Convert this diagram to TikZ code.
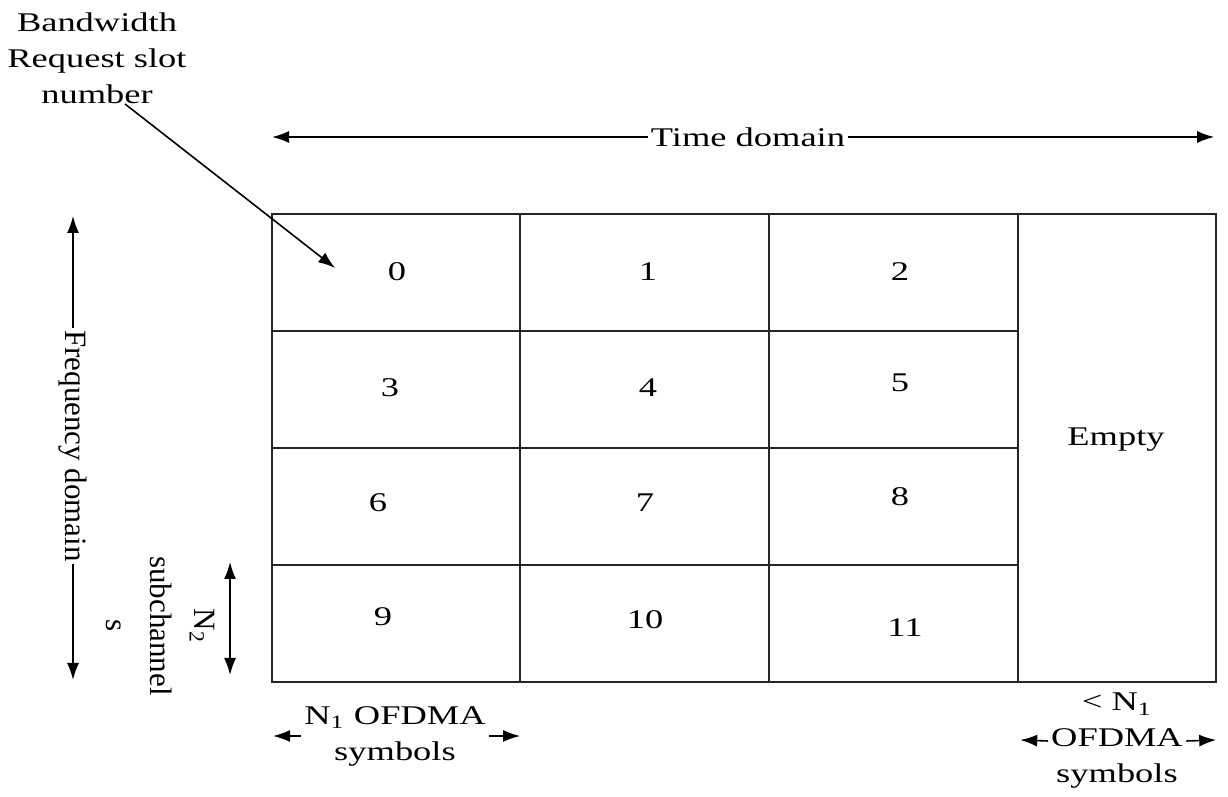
\documentclass[tikz,border=0pt]{standalone}
\usepackage{fontspec}
\setmainfont{Liberation Serif}
\usetikzlibrary{arrows.meta}
\tikzset{
  txt/.style={font=\fontsize{13.5}{18}\selectfont, inner sep=1pt, align=center, transform shape},
  vtxt/.style={font=\fontsize{15.5}{22}\selectfont, inner sep=1pt, align=center, rotate=-90},
  gridline/.style={line width=1pt, draw=black!85},
  arr/.style={line width=0.8pt},
  >={Latex[length=8.5pt,width=6pt]}
}
\begin{document}
\begin{tikzpicture}[x=0.37037pt, y=-0.5pt, xscale=1.35]
\useasboundingbox (0,0) rectangle (1228,797);

% slot grid
\draw[gridline] (272,214) rectangle (1216,682);
\foreach \cx in {520,769,1018} \draw[gridline] (\cx,214) -- (\cx,682);
\foreach \ry in {331,448,565} \draw[gridline] (272,\ry) -- (1018,\ry);

% slot numbers
\node[txt] (s0) at (397,272) {0};
\node[txt] (s1) at (648,272) {1};
\node[txt] (s2) at (900,272) {2};
\node[txt] (s3) at (390,388) {3};
\node[txt] (s4) at (648,388) {4};
\node[txt] (s5) at (900,383) {5};
\node[txt] (s6) at (378,503) {6};
\node[txt] (s7) at (645,503) {7};
\node[txt] (s8) at (900,497) {8};
\node[txt] (s9) at (383,617) {9};
\node[txt] (s10) at (645,620) {10};
\node[txt] (s11) at (905,628) {11};
\node[txt] (empty) at (1116,440) {Empty};

% slot number callout
\node[txt] (bw) at (97,58) {Bandwidth\\Request slot\\number};
\coordinate (bwtail) at (125,104);
\coordinate (bwtip) at (335,268);
\draw[arr,->] (bwtail) -- (bwtip);

% time axis
\node[txt] (time) at (748,137) {Time domain};
\coordinate (tl) at (272,137);
\coordinate (tr) at (1214,137);
\draw[arr,->] (time.west) -- (tl);
\draw[arr,->] (time.east) -- (tr);

% frequency axis
\node[vtxt] (freq) at (73,446) {Frequency domain};
\coordinate (ft) at (73,216);
\coordinate (fb) at (73,680);
\draw[arr,->] (freq.west) -- (ft);
\draw[arr,->] (freq.east) -- (fb);

% subchannel height
\node[vtxt] (n2) at (160,626) {N\textsubscript{2}\\subchannel\\s};
\coordinate (n2t) at (230,562);
\coordinate (n2b) at (230,675);
\draw[arr,<->] (n2t) -- (n2b);

% symbol width of one slot
\node[txt] (n1) at (395,736) {N\textsubscript{1} OFDMA\\symbols};
\coordinate (n1l) at (273,736);
\coordinate (n1r) at (520,736);
\draw[arr,->] (n1.west) -- (n1l);
\draw[arr,->] (n1.east) -- (n1r);

% remaining symbols
\node[txt] (lt) at (1117,741) {< N\textsubscript{1}\\OFDMA\\symbols};
\coordinate (ltl) at (1020,740);
\coordinate (ltr) at (1216,740);
\draw[arr,->] (lt.west) -- (ltl);
\draw[arr,->] (lt.east) -- (ltr);
\end{tikzpicture}
\end{document}
